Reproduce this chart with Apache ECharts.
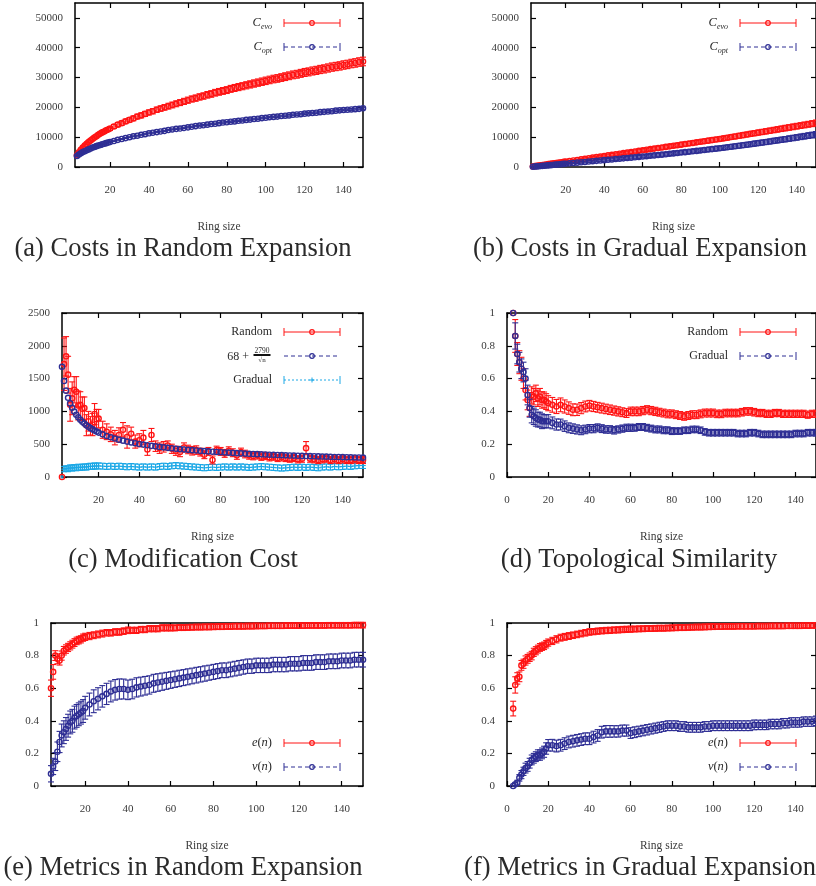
<!DOCTYPE html>
<html>
<head>
<meta charset="utf-8">
<title>Ring expansion costs and metrics</title>
<script src="https://cdn.jsdelivr.net/npm/echarts@6/dist/echarts.min.js"></script>
<style>
  html, body { margin: 0; padding: 0; background: #fff; }
  #chart { width: 816px; height: 886px; }
</style>
</head>
<body>
<div id="chart"></div>
<script>
// ring sizes (x values)
const ring = [3,4,5,6,7,8,9,10,11,12,13,14,15,16,17,18,19,20,
  22,24,26,28,30,32,34,36,38,40,
  42,44,46,48,50,52,54,56,58,60,
  62,64,66,68,70,72,74,76,78,80,
  82,84,86,88,90,92,94,96,98,100,
  102,104,106,108,110,112,114,116,118,120,
  122,124,126,128,130,132,134,136,138,140,
  142,144,146,148,150];
const ringC = [2,3,4,5,6,7,8,9,10,11,12,13,14,15,16,17,18,19,20,
  22,24,26,28,30,32,34,36,38,40,
  42,44,46,48,50,52,54,56,58,60,
  62,64,66,68,70,72,74,76,78,80,
  82,84,86,88,90,92,94,96,98,100,
  102,104,106,108,110,112,114,116,118,120,
  122,124,126,128,130,132,134,136,138,140,
  142,144,146,148,150];
const ringE = [4,5,6,7,8,9,10,11,12,13,14,15,16,17,18,19,20,
  22,24,26,28,30,32,34,36,38,40,
  42,44,46,48,50,52,54,56,58,60,
  62,64,66,68,70,72,74,76,78,80,
  82,84,86,88,90,92,94,96,98,100,
  102,104,106,108,110,112,114,116,118,120,
  122,124,126,128,130,132,134,136,138,140,
  142,144,146,148,150];

// tick labels
const ringTicks = [20, 40, 60, 80, 100, 120, 140];
const ringTicks0 = [0, 20, 40, 60, 80, 100, 120, 140];
const costTicks = [0, 10000, 20000, 30000, 40000, 50000];
const modTicks = [0, 500, 1000, 1500, 2000, 2500];
const unitTicks = [0, 0.2, 0.4, 0.6, 0.8, 1];

// (a) costs, random expansion
const evoRandom = [3900,4900,5800,6500,7200,7800,8400,8900,9400,9900,10300,10800,11200,11600,11900,12300,12600,12900,
  13600,14200,14700,15300,15800,16300,16900,17300,17800,18300,
  18700,19200,19600,20000,20400,20800,21200,21600,22000,22400,
  22800,23100,23500,23800,24200,24500,24900,25200,25500,25800,
  26200,26500,26800,27100,27400,27700,28000,28300,28600,28900,
  29200,29500,29700,30000,30300,30600,30900,31100,31400,31700,
  31900,32200,32400,32700,32900,33200,33500,33700,33900,34200,
  34400,34700,34900,35200,35400];
const evoRandomErr = [200,250,300,330,360,390,420,440,460,480,500,520,540,560,570,590,600,620,
  650,680,700,730,750,780,800,820,840,860,
  880,900,920,940,960,970,990,1000,1020,1030,
  1040,1060,1070,1080,1100,1110,1120,1130,1140,1150,
  1160,1170,1180,1190,1200,1210,1220,1230,1240,1250,
  1260,1270,1280,1290,1300,1300,1310,1320,1330,1340,
  1340,1350,1360,1370,1370,1380,1390,1390,1400,1410,
  1410,1420,1430,1430,1440];
const optRandom = [3700,4200,4600,5000,5300,5600,5900,6200,6500,6700,7000,7200,7400,7600,7800,8000,8200,8400,
  8700,9100,9400,9700,10000,10300,10500,10800,11000,11300,
  11500,11700,11900,12100,12400,12600,12800,12900,13100,13300,
  13500,13700,13900,14000,14200,14400,14500,14700,14900,15000,
  15200,15300,15500,15600,15800,15900,16100,16200,16400,16500,
  16700,16800,16900,17100,17200,17300,17500,17600,17700,17900,
  18000,18100,18200,18400,18500,18600,18700,18900,19000,19100,
  19200,19300,19400,19500,19700];
const optRandomErr = [60,70,80,80,90,90,100,100,110,110,110,120,120,120,130,130,130,140,
  140,150,150,160,160,170,170,170,180,180,
  190,190,190,200,200,200,210,210,210,220,
  220,220,230,230,230,230,240,240,240,240,
  250,250,250,250,260,260,260,260,270,270,
  270,270,270,280,280,280,280,290,290,290,
  290,290,300,300,300,300,300,310,310,310,
  310,310,320,320,320];

// (b) costs, gradual expansion
const evoGradual = [190,280,380,470,570,660,760,850,950,1040,1140,1230,1330,1420,1520,1610,1710,1800,
  1990,2180,2370,2560,2750,2940,3130,3320,3510,3700,
  3890,4080,4270,4460,4650,4840,5030,5220,5410,5600,
  5790,5980,6170,6360,6550,6740,6930,7120,7310,7500,
  7690,7880,8070,8260,8450,8640,8830,9020,9210,9400,
  9610,9820,10040,10250,10460,10680,10890,11110,11320,11540,
  11750,11960,12180,12390,12610,12820,13040,13250,13460,13680,
  13890,14110,14320,14540,14750];
const evoGradualErr = [80,100,110,120,140,150,160,170,190,200,210,220,240,250,260,270,290,300,
  310,330,340,350,370,380,390,410,420,430,
  440,460,470,480,500,510,520,530,550,560,
  570,580,590,600,610,620,630,640,650,660,
  670,680,690,700,710,720,730,740,750,760,
  770,780,790,800,810,820,830,840,850,860,
  870,880,890,900,910,920,930,940,950,960,
  970,980,990,1000,1010];
const optGradual = [100,150,200,260,320,380,440,500,560,620,680,740,800,860,920,980,1040,1100,
  1220,1340,1460,1580,1700,1820,1940,2060,2180,2300,
  2420,2540,2660,2780,2900,3020,3140,3260,3380,3500,
  3630,3760,3890,4020,4150,4280,4420,4560,4700,4840,
  4980,5120,5260,5400,5550,5700,5850,6000,6150,6300,
  6460,6620,6790,6960,7130,7300,7470,7650,7830,8010,
  8190,8370,8560,8750,8940,9130,9320,9520,9720,9920,
  10120,10320,10520,10720,10920];
const optGradualErr = [60,70,90,100,110,120,140,150,160,170,190,200,210,220,240,250,260,270,
  290,300,310,320,340,350,360,370,390,400,
  410,420,440,450,460,470,490,500,510,520,
  530,540,550,560,570,580,590,600,610,620,
  630,640,650,660,670,680,690,700,710,720,
  730,740,750,760,770,780,790,800,810,820,
  830,840,850,860,870,880,890,900,910,920,
  930,940,950,960,970];

// (c) modification cost (on ringC)
const modRandom = [0,1720,1840,1560,1100,1200,1330,1300,1090,1100,1040,1050,790,850,780,800,960,880,890,
  720,690,650,600,640,720,610,660,540,560,
  600,420,640,470,440,460,480,430,400,380,
  450,420,400,410,380,340,390,260,410,390,
  360,400,370,330,380,350,330,320,330,310,
  320,300,310,290,300,290,280,290,270,280,
  440,280,270,260,270,280,260,270,260,270,
  260,260,270,260,260];
const modRandomErr = [0,400,300,280,250,250,200,230,220,200,180,170,160,150,140,170,160,150,140,
  130,120,110,110,110,110,170,100,100,100,
  110,90,100,80,80,80,70,70,70,70,
  70,65,65,65,60,60,60,60,60,60,
  60,60,60,60,60,58,58,58,56,56,
  55,55,55,55,55,55,55,55,55,55,
  100,55,55,55,55,55,55,55,55,55,
  55,55,55,55,55];
const modFit = [1679,1463,1316,1207,1122,1055,998,950,909,873,842,814,788,766,745,726,708,692,677,
  650,626,605,586,569,554,540,527,515,504,
  494,484,475,467,459,451,444,438,431,425,
  420,414,409,404,399,395,390,386,382,378,
  374,371,367,364,360,357,354,351,348,346,
  343,340,338,335,333,330,328,326,324,322,
  320,318,316,314,312,310,308,306,305,303,
  301,300,298,297,295];
const modGradual = [0,120,130,125,140,135,145,140,150,145,150,155,150,160,165,160,170,165,170,
  165,160,165,160,165,160,155,160,155,150,
  155,150,155,150,160,165,160,170,175,170,
  165,160,155,150,145,140,145,150,145,150,
  155,150,155,150,155,150,145,150,155,160,
  155,150,145,140,135,140,145,150,145,150,
  145,150,145,140,150,155,150,160,155,160,
  165,160,170,175,175];
const modGradualErr = [0,40,42,44,45,45,45,45,45,45,45,45,45,45,45,45,45,45,45,
  45,45,45,45,45,45,45,45,45,45,
  45,45,45,45,45,45,45,45,45,45,
  45,45,45,45,45,45,45,45,45,45,
  45,45,45,45,45,45,45,45,45,45,
  45,45,45,45,45,45,45,45,45,45,
  45,45,45,45,45,45,45,45,45,45,
  45,45,45,45,45];

// (d) topological similarity
const simRandom = [1.0,0.86,0.75,0.70,0.66,0.60,0.53,0.47,0.42,0.50,0.49,0.51,0.48,0.49,0.47,0.47,0.46,0.45,
  0.44,0.43,0.44,0.43,0.42,0.41,0.41,0.42,0.43,0.435,
  0.43,0.425,0.42,0.415,0.41,0.405,0.40,0.395,0.39,0.40,
  0.40,0.40,0.405,0.41,0.405,0.40,0.395,0.39,0.385,0.385,
  0.38,0.375,0.37,0.375,0.38,0.38,0.385,0.39,0.39,0.39,
  0.385,0.385,0.39,0.39,0.39,0.39,0.395,0.40,0.40,0.395,
  0.39,0.39,0.385,0.385,0.39,0.39,0.385,0.385,0.385,0.385,
  0.385,0.385,0.38,0.385,0.385];
const simRandomErr = [0,0.10,0.07,0.07,0.07,0.06,0.06,0.06,0.05,0.05,0.05,0.05,0.05,0.05,0.05,0.048,0.048,0.046,
  0.045,0.043,0.042,0.04,0.038,0.036,0.035,0.034,0.033,0.032,
  0.031,0.03,0.03,0.029,0.029,0.028,0.028,0.027,0.027,0.026,
  0.026,0.026,0.025,0.025,0.025,0.025,0.024,0.024,0.024,0.024,
  0.024,0.024,0.024,0.024,0.024,0.024,0.024,0.024,0.024,0.024,
  0.023,0.023,0.023,0.023,0.023,0.023,0.023,0.023,0.023,0.023,
  0.022,0.022,0.022,0.022,0.022,0.022,0.022,0.022,0.022,0.022,
  0.022,0.022,0.022,0.022,0.022];
const simGradual = [1.0,0.86,0.75,0.70,0.66,0.64,0.60,0.50,0.42,0.38,0.37,0.36,0.35,0.35,0.34,0.34,0.34,0.34,
  0.33,0.32,0.32,0.31,0.30,0.295,0.29,0.285,0.29,0.295,
  0.295,0.30,0.295,0.29,0.29,0.285,0.29,0.295,0.30,0.30,
  0.30,0.305,0.305,0.30,0.295,0.29,0.29,0.285,0.285,0.28,
  0.28,0.28,0.285,0.285,0.29,0.29,0.285,0.275,0.27,0.27,
  0.27,0.27,0.27,0.27,0.27,0.265,0.265,0.265,0.27,0.27,
  0.265,0.26,0.26,0.26,0.26,0.26,0.26,0.26,0.26,0.265,
  0.265,0.265,0.27,0.27,0.27];
const simGradualErr = [0,0.08,0.06,0.06,0.06,0.06,0.06,0.06,0.055,0.05,0.05,0.05,0.045,0.045,0.045,0.04,0.04,0.04,
  0.036,0.034,0.033,0.032,0.03,0.029,0.028,0.027,0.026,0.025,
  0.025,0.024,0.024,0.023,0.023,0.023,0.022,0.022,0.022,0.022,
  0.021,0.021,0.021,0.021,0.021,0.021,0.021,0.021,0.021,0.021,
  0.02,0.02,0.02,0.02,0.02,0.02,0.02,0.02,0.02,0.02,
  0.02,0.02,0.02,0.02,0.02,0.02,0.02,0.02,0.02,0.02,
  0.02,0.02,0.02,0.02,0.02,0.02,0.02,0.02,0.02,0.02,
  0.02,0.02,0.02,0.02,0.02];

// (e) metrics, random expansion (on ringE)
const eRandom = [0.60,0.70,0.80,0.78,0.77,0.80,0.83,0.84,0.85,0.86,0.87,0.88,0.89,0.895,0.90,0.91,0.915,
  0.92,0.925,0.93,0.935,0.94,0.94,0.945,0.945,0.95,0.955,
  0.955,0.955,0.96,0.96,0.965,0.965,0.965,0.97,0.97,0.97,
  0.97,0.972,0.972,0.973,0.974,0.975,0.975,0.976,0.976,0.977,
  0.978,0.978,0.979,0.979,0.98,0.98,0.98,0.981,0.981,0.982,
  0.982,0.982,0.983,0.983,0.983,0.983,0.984,0.984,0.984,0.984,
  0.984,0.985,0.985,0.985,0.985,0.985,0.986,0.986,0.986,0.986,
  0.986,0.986,0.987,0.987,0.987];
const eRandomErr = [0.05,0.045,0.03,0.03,0.028,0.028,0.026,0.026,0.025,0.025,0.024,0.024,0.023,0.023,0.022,0.022,0.022,
  0.022,0.021,0.021,0.021,0.02,0.02,0.02,0.02,0.02,0.02,
  0.019,0.019,0.019,0.019,0.019,0.019,0.019,0.019,0.019,0.019,
  0.018,0.018,0.018,0.018,0.018,0.018,0.018,0.018,0.018,0.018,
  0.018,0.018,0.018,0.018,0.018,0.018,0.018,0.018,0.018,0.018,
  0.017,0.017,0.017,0.017,0.017,0.017,0.017,0.017,0.017,0.017,
  0.017,0.017,0.017,0.017,0.017,0.017,0.017,0.017,0.017,0.017,
  0.017,0.017,0.017,0.017,0.017];
const vRandom = [0.075,0.12,0.15,0.21,0.27,0.31,0.33,0.35,0.37,0.39,0.40,0.42,0.43,0.44,0.45,0.46,0.48,
  0.50,0.52,0.535,0.55,0.565,0.58,0.59,0.595,0.595,0.59,
  0.595,0.605,0.61,0.615,0.62,0.63,0.635,0.64,0.645,0.65,
  0.655,0.66,0.665,0.67,0.675,0.68,0.685,0.69,0.695,0.70,
  0.705,0.71,0.71,0.715,0.72,0.725,0.73,0.735,0.735,0.74,
  0.74,0.74,0.74,0.745,0.745,0.745,0.745,0.75,0.75,0.75,
  0.755,0.755,0.755,0.76,0.76,0.76,0.765,0.765,0.765,0.77,
  0.77,0.77,0.775,0.775,0.775];
const vRandomErr = [0.05,0.05,0.055,0.06,0.065,0.07,0.07,0.07,0.07,0.07,0.07,0.07,0.07,0.07,0.07,0.07,0.07,
  0.07,0.07,0.068,0.066,0.065,0.064,0.063,0.062,0.061,0.06,
  0.06,0.059,0.058,0.057,0.056,0.055,0.054,0.053,0.052,0.051,
  0.05,0.05,0.049,0.049,0.048,0.048,0.047,0.047,0.046,0.046,
  0.046,0.045,0.045,0.045,0.045,0.045,0.044,0.044,0.044,0.044,
  0.044,0.044,0.044,0.044,0.044,0.044,0.044,0.044,0.044,0.044,
  0.045,0.045,0.045,0.045,0.045,0.045,0.045,0.045,0.045,0.045,
  0.045,0.045,0.045,0.045,0.045];

// (f) metrics, gradual expansion
const eGradual = [0.475,0.62,0.66,0.67,0.74,0.75,0.77,0.78,0.79,0.80,0.82,0.83,0.84,0.85,0.855,0.86,0.87,0.88,
  0.89,0.90,0.91,0.915,0.92,0.925,0.93,0.935,0.94,0.945,
  0.947,0.95,0.952,0.954,0.955,0.957,0.958,0.96,0.961,0.962,
  0.963,0.964,0.965,0.966,0.966,0.967,0.968,0.968,0.969,0.97,
  0.971,0.972,0.972,0.973,0.974,0.975,0.975,0.976,0.977,0.978,
  0.978,0.978,0.979,0.979,0.979,0.98,0.98,0.98,0.98,0.98,
  0.981,0.981,0.981,0.982,0.982,0.982,0.982,0.983,0.983,0.983,
  0.983,0.984,0.984,0.985,0.985];
const eGradualErr = [0.045,0.05,0.035,0.03,0.03,0.028,0.028,0.027,0.026,0.026,0.025,0.025,0.024,0.024,0.023,0.023,0.023,0.022,
  0.022,0.022,0.021,0.021,0.021,0.02,0.02,0.02,0.02,0.02,
  0.019,0.019,0.019,0.019,0.019,0.019,0.019,0.019,0.019,0.019,
  0.018,0.018,0.018,0.018,0.018,0.018,0.018,0.018,0.018,0.018,
  0.018,0.018,0.018,0.018,0.018,0.018,0.018,0.018,0.018,0.018,
  0.017,0.017,0.017,0.017,0.017,0.017,0.017,0.017,0.017,0.017,
  0.017,0.017,0.017,0.017,0.017,0.017,0.017,0.017,0.017,0.017,
  0.017,0.017,0.017,0.017,0.017];
const vGradual = [0.0,0.01,0.02,0.05,0.07,0.09,0.11,0.12,0.14,0.16,0.17,0.18,0.19,0.19,0.20,0.21,0.23,0.25,
  0.25,0.245,0.25,0.26,0.27,0.275,0.28,0.285,0.29,0.29,
  0.30,0.31,0.33,0.335,0.335,0.335,0.335,0.34,0.34,0.325,
  0.33,0.335,0.34,0.345,0.35,0.355,0.36,0.365,0.37,0.37,
  0.37,0.365,0.365,0.36,0.36,0.36,0.36,0.365,0.365,0.37,
  0.37,0.37,0.37,0.37,0.37,0.37,0.37,0.37,0.37,0.375,
  0.375,0.375,0.375,0.38,0.38,0.38,0.385,0.385,0.39,0.39,
  0.39,0.395,0.395,0.395,0.40];
const vGradualErr = [0,0.01,0.015,0.02,0.025,0.025,0.03,0.03,0.03,0.03,0.03,0.03,0.032,0.032,0.033,0.034,0.035,0.035,
  0.036,0.036,0.036,0.036,0.036,0.036,0.036,0.036,0.036,0.036,
  0.036,0.036,0.036,0.036,0.036,0.035,0.035,0.034,0.034,0.033,
  0.033,0.032,0.032,0.032,0.031,0.031,0.031,0.03,0.03,0.03,
  0.03,0.03,0.03,0.03,0.03,0.03,0.03,0.03,0.03,0.03,
  0.03,0.03,0.03,0.03,0.03,0.03,0.03,0.03,0.03,0.03,
  0.029,0.029,0.029,0.029,0.029,0.029,0.029,0.029,0.029,0.029,
  0.029,0.029,0.029,0.029,0.029];

const RED = '#ff1414';
const BLUE = '#2e2e94';
const CYAN = '#1ca8e6';
const SERIF = '"Liberation Serif", "DejaVu Serif", serif';
const TICK_TEXT = '#3a3a3a';
const TEXT = '#2a2a2a';

// one entry per panel: grid box, x range, y range
const panels = [
  { box: { left: 75, top: 3, width: 288, height: 164 }, xMin: 2, xMax: 150, xTicks: ringTicks, yMax: 55000, yTicks: costTicks },
  { box: { left: 531, top: 3, width: 295, height: 164 }, xMin: 2, xMax: 150, xTicks: ringTicks, yMax: 55000, yTicks: costTicks },
  { box: { left: 62, top: 313, width: 301, height: 164 }, xMin: 2, xMax: 150, xTicks: ringTicks, yMax: 2500, yTicks: modTicks },
  { box: { left: 507, top: 313, width: 312, height: 164 }, xMin: 0, xMax: 150, xTicks: ringTicks0, yMax: 1, yTicks: unitTicks },
  { box: { left: 51, top: 623, width: 312, height: 163 }, xMin: 4, xMax: 150, xTicks: ringTicks, yMax: 1, yTicks: unitTicks },
  { box: { left: 507, top: 623, width: 312, height: 163 }, xMin: 0, xMax: 150, xTicks: ringTicks0, yMax: 1, yTicks: unitTicks },
];

const grid = [], xAxis = [], yAxis = [];
const lineStyle = { color: '#000', width: 1.5 };
const tickStyle = { inside: true, length: 5, lineStyle: { color: '#000', width: 1.2 } };
const plain = function (v) { return String(v); };

panels.forEach(function (p, i) {
  grid.push(Object.assign({ containLabel: false }, p.box));
  xAxis.push({
    type: 'value', gridIndex: i, min: p.xMin, max: p.xMax, position: 'bottom',
    axisLine: { onZero: false, lineStyle: lineStyle },
    axisTick: Object.assign({ customValues: p.xTicks }, tickStyle),
    axisLabel: { customValues: p.xTicks, formatter: plain, margin: 18, fontFamily: SERIF, fontSize: 11, color: TICK_TEXT },
    splitLine: { show: false },
    name: 'Ring size', nameLocation: 'middle', nameGap: 54,
    nameTextStyle: { fontFamily: SERIF, fontSize: 11.5, color: TICK_TEXT }
  });
  xAxis.push({
    type: 'value', gridIndex: i, min: p.xMin, max: p.xMax, position: 'top',
    axisLine: { onZero: false, lineStyle: lineStyle },
    axisTick: Object.assign({ customValues: p.xTicks }, tickStyle),
    axisLabel: { show: false }, splitLine: { show: false }
  });
  yAxis.push({
    type: 'value', gridIndex: i, min: 0, max: p.yMax, position: 'left',
    axisLine: { onZero: false, lineStyle: lineStyle },
    axisTick: Object.assign({ customValues: p.yTicks }, tickStyle),
    axisLabel: { customValues: p.yTicks, formatter: plain, margin: 12, fontFamily: SERIF, fontSize: 11, color: TICK_TEXT },
    splitLine: { show: false }
  });
  yAxis.push({
    type: 'value', gridIndex: i, min: 0, max: p.yMax, position: 'right',
    axisLine: { onZero: false, lineStyle: lineStyle },
    axisTick: Object.assign({ customValues: p.yTicks }, tickStyle),
    axisLabel: { show: false }, splitLine: { show: false }
  });
});

const CAP = 3;
const R = 2.6;

// gnuplot-like "with errorbars": bar, caps and open marker
function errorbars(name, panel, xs, ys, errs, color, marker) {
  return {
    type: 'custom', name: name, silent: true, clip: false,
    xAxisIndex: panel * 2, yAxisIndex: panel * 2,
    itemStyle: { color: color },
    dimensions: ['x', 'y', 'err'],
    encode: { x: 0, y: 1 },
    data: xs.map(function (x, k) { return [x, ys[k], errs ? errs[k] : 0]; }),
    renderItem: function (params, api) {
      const x = api.value(0), y = api.value(1), e = api.value(2);
      const c = api.coord([x, y]);
      const st = { stroke: color, lineWidth: 1.1, fill: 'none' };
      const kids = [];
      if (e > 0) {
        const hi = api.coord([x, y + e])[1], lo = api.coord([x, y - e])[1];
        kids.push({ type: 'line', shape: { x1: c[0], y1: hi, x2: c[0], y2: lo }, style: st });
        kids.push({ type: 'line', shape: { x1: c[0] - CAP, y1: hi, x2: c[0] + CAP, y2: hi }, style: st });
        kids.push({ type: 'line', shape: { x1: c[0] - CAP, y1: lo, x2: c[0] + CAP, y2: lo }, style: st });
      }
      if (marker === 'plus') {
        kids.push({ type: 'line', shape: { x1: c[0] - 2.8, y1: c[1], x2: c[0] + 2.8, y2: c[1] }, style: st });
        kids.push({ type: 'line', shape: { x1: c[0], y1: c[1] - 2.8, x2: c[0], y2: c[1] + 2.8 }, style: st });
      } else {
        kids.push({ type: 'circle', shape: { cx: c[0], cy: c[1], r: R }, style: { stroke: color, lineWidth: 1.4, fill: 'none' } });
      }
      return { type: 'group', children: kids };
    }
  };
}

const series = [
  errorbars('Cevo random', 0, ring, evoRandom, evoRandomErr, RED),
  errorbars('Copt random', 0, ring, optRandom, optRandomErr, BLUE),
  errorbars('Cevo gradual', 1, ring, evoGradual, evoGradualErr, RED),
  errorbars('Copt gradual', 1, ring, optGradual, optGradualErr, BLUE),
  errorbars('Gradual', 2, ringC, modGradual, modGradualErr, CYAN, 'plus'),
  errorbars('Random', 2, ringC, modRandom, modRandomErr, RED),
  errorbars('Fit', 2, ringC, modFit, null, BLUE),
  errorbars('Random', 3, ring, simRandom, simRandomErr, RED),
  errorbars('Gradual', 3, ring, simGradual, simGradualErr, BLUE),
  errorbars('e(n)', 4, ringE, eRandom, eRandomErr, RED),
  errorbars('v(n)', 4, ringE, vRandom, vRandomErr, BLUE),
  errorbars('e(n)', 5, ring, eGradual, eGradualErr, RED),
  errorbars('v(n)', 5, ring, vGradual, vGradualErr, BLUE),
];

// legend rows drawn as graphics (text left of sample, gnuplot style)
function textLabel(xr, y, label) {
  const base = { type: 'text', x: xr, y: y, z: 10, silent: true };
  if (typeof label === 'string') {
    base.style = { text: label, font: '12px ' + SERIF, fill: TEXT, align: 'right', verticalAlign: 'middle' };
  } else {
    base.style = {
      text: label.text, align: 'right', verticalAlign: 'middle',
      rich: {
        i: { font: 'italic 12.5px ' + SERIF, fill: TEXT, lineHeight: 16, verticalAlign: 'middle' },
        r: { font: '12.5px ' + SERIF, fill: TEXT, lineHeight: 16, verticalAlign: 'middle' },
        s: { font: 'italic 8px ' + SERIF, fill: TEXT, lineHeight: 16, verticalAlign: 'bottom' }
      }
    };
  }
  return base;
}

function legendRow(xr, y, label, color, dash, caps, marker) {
  const x1 = xr + 12, x2 = xr + 68, xm = (x1 + x2) / 2;
  const st = { stroke: color, lineWidth: 1, fill: 'none' };
  const els = [];
  if (label) els.push(textLabel(xr, y, label));
  els.push({ type: 'line', z: 10, silent: true, shape: { x1: x1, y1: y, x2: x2, y2: y }, style: Object.assign({ lineDash: dash }, st) });
  if (caps) {
    els.push({ type: 'line', z: 10, silent: true, shape: { x1: x1, y1: y - 4, x2: x1, y2: y + 4 }, style: st });
    els.push({ type: 'line', z: 10, silent: true, shape: { x1: x2, y1: y - 4, x2: x2, y2: y + 4 }, style: st });
  }
  if (marker === 'plus') {
    els.push({ type: 'line', z: 10, silent: true, shape: { x1: xm - 2.5, y1: y, x2: xm + 2.5, y2: y }, style: st });
    els.push({ type: 'line', z: 10, silent: true, shape: { x1: xm, y1: y - 2.5, x2: xm, y2: y + 2.5 }, style: st });
  } else {
    els.push({ type: 'circle', z: 10, silent: true, shape: { cx: xm, cy: y, r: 2.3 }, style: { stroke: color, lineWidth: 1.2, fill: 'none' } });
  }
  return els;
}

const cEvo = { text: '{i|C}{s|evo}' };
const cOpt = { text: '{i|C}{s|opt}' };
const eN = { text: '{i|e}{r|(}{i|n}{r|)}' };
const vN = { text: '{i|v}{r|(}{i|n}{r|)}' };
const DASH = [4, 3];
const DOT = [2, 2];

let graphics = [].concat(
  legendRow(272, 23, cEvo, RED, null, true),
  legendRow(272, 47, cOpt, BLUE, DASH, true),
  legendRow(728, 23, cEvo, RED, null, true),
  legendRow(728, 47, cOpt, BLUE, DASH, true),
  legendRow(272, 332, 'Random', RED, null, true),
  legendRow(272, 356, null, BLUE, DASH, false),
  legendRow(272, 380, 'Gradual', CYAN, DOT, true, 'plus'),
  legendRow(728, 332, 'Random', RED, null, true),
  legendRow(728, 356, 'Gradual', BLUE, DASH, true),
  legendRow(272, 743, eN, RED, null, true),
  legendRow(272, 767, vN, BLUE, DASH, true),
  legendRow(728, 743, eN, RED, null, true),
  legendRow(728, 767, vN, BLUE, DASH, true)
);

// 68 + 2790 / sqrt(n)
graphics.push(
  { type: 'text', x: 249, y: 357, z: 10, silent: true, style: { text: '68 +', font: '12px ' + SERIF, fill: TEXT, align: 'right', verticalAlign: 'middle' } },
  { type: 'text', x: 262, y: 351, z: 10, silent: true, style: { text: '2790', font: '7.5px ' + SERIF, fill: TEXT, align: 'center', verticalAlign: 'middle' } },
  { type: 'rect', z: 10, silent: true, shape: { x: 253.5, y: 354, width: 17, height: 2 }, style: { fill: '#111' } },
  { type: 'text', x: 262, y: 360.5, z: 10, silent: true, style: { text: '√n', font: '7px ' + SERIF, fill: TEXT, align: 'center', verticalAlign: 'middle' } }
);

// sub-figure captions
const captions = [
  ['(a) Costs in Random Expansion', 183, 249],
  ['(b) Costs in Gradual Expansion', 640, 249],
  ['(c) Modification Cost', 183, 560],
  ['(d) Topological Similarity', 639, 560],
  ['(e) Metrics in Random Expansion', 183, 868],
  ['(f) Metrics in Gradual Expansion', 640, 868],
];
captions.forEach(function (c) {
  graphics.push({ type: 'text', x: c[1], y: c[2], silent: true, style: { text: c[0], font: '26.5px ' + SERIF, fill: TEXT, align: 'center', verticalAlign: 'middle' } });
});

const chart = echarts.init(document.getElementById('chart'), null, { renderer: 'canvas' });
chart.setOption({
  animation: false,
  backgroundColor: '#fff',
  grid: grid,
  xAxis: xAxis,
  yAxis: yAxis,
  series: series,
  graphic: { elements: graphics }
});
</script>
</body>
</html>
